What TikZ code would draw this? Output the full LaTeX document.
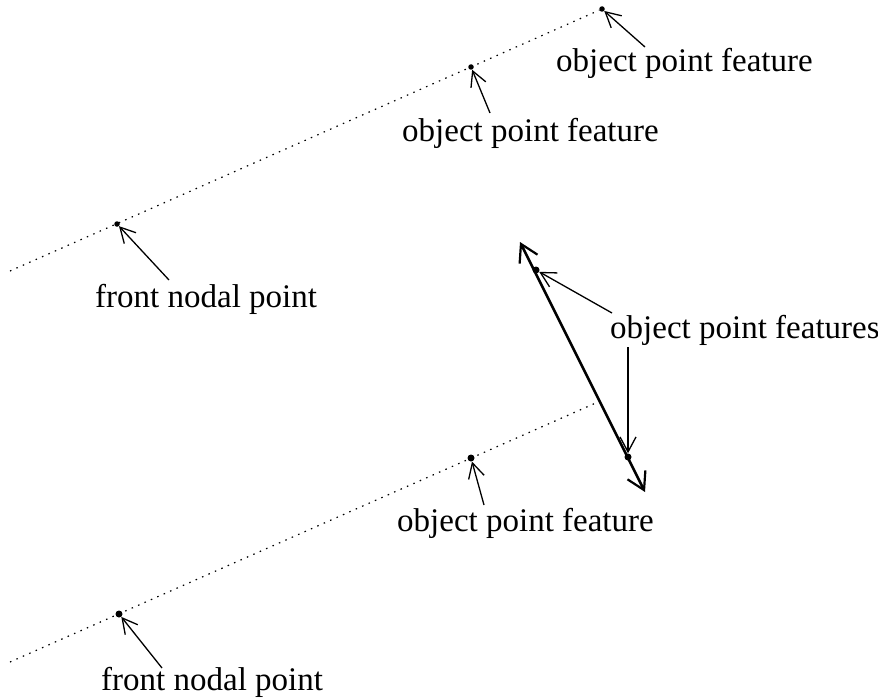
\documentclass[tikz,border=0pt]{standalone}
\usepackage{fontspec}
\setmainfont{Liberation Serif}
\usetikzlibrary{arrows.meta}
\begin{document}
\begin{tikzpicture}[x=1pt,y=-1pt,
  lbl/.style={anchor=base west,inner sep=0pt,font=\fontsize{33}{40}\selectfont},
  ray/.style={line width=1.2pt,dash pattern=on 1.5pt off 5.5pt},
  ptr/.style={line width=1.3pt,-{Straight Barb[length=15pt,width=16pt,line width=1.3pt]}},
  axis/.style={line width=2.6pt,{Straight Barb[length=17pt,width=20pt,line width=2.2pt]}-{Straight Barb[length=17pt,width=20pt,line width=2.2pt]}},
  fp/.style={circle,fill=black,inner sep=0pt,minimum size=#1}]
\useasboundingbox (0,0) rectangle (878,698);

% upper line of sight
\coordinate (u0) at (10,271);
\node[fp=5.5pt] (un) at (117,224) {};
\node[fp=5.5pt] (uo1) at (471,67) {};
\node[fp=5.5pt] (uo2) at (602,9) {};
\draw[ray] (u0) -- (uo2);

% lower line of sight
\coordinate (l0) at (10,662);
\coordinate (l1) at (598,402);
\node[fp=7pt] (ln) at (119,614) {};
\node[fp=7pt] (lo) at (471,458) {};
\draw[ray] (l0) -- (l1);

% object axis
\coordinate (a0) at (520,242);
\coordinate (a1) at (645,492);
\draw[axis] (a0) -- (a1);
\node[fp=7pt] (p1) at (536,270) {};
\node[fp=7pt] (p2) at (628,457) {};

% labels
\node[lbl] (t1) at (556,72) {object point feature};
\node[lbl] (t2) at (402,142) {object point feature};
\node[lbl] (t3) at (95,307) {front nodal point};
\node[lbl] (t4) at (610,338) {object point features};
\node[lbl] (t5) at (397,531) {object point feature};
\node[lbl] (t6) at (101,690) {front nodal point};

% pointers
\coordinate (s1) at (645,47);
\coordinate (s2) at (490,113);
\coordinate (s3) at (169,280);
\coordinate (s4a) at (612,313);
\coordinate (s4b) at (628,347);
\coordinate (s5) at (484,505);
\coordinate (s6) at (162,668);
\draw[ptr] (s1) -- (uo2);
\draw[ptr] (s2) -- (uo1);
\draw[ptr] (s3) -- (un);
\draw[ptr] (s4a) -- (p1);
\draw[ptr] (s4b) -- (p2);
\draw[ptr] (s5) -- (lo);
\draw[ptr] (s6) -- (ln);
\end{tikzpicture}
\end{document}
